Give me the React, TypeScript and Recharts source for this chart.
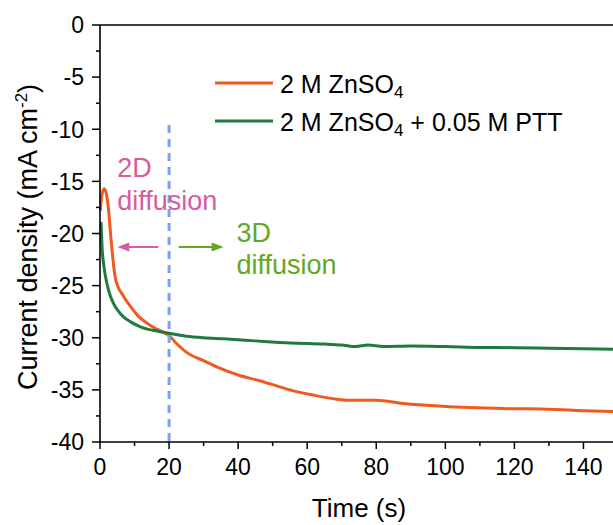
import React from 'react';
import { LineChart, Line, XAxis, YAxis, Legend, ReferenceLine, ReferenceDot } from 'recharts';

const FONT = '"Liberation Sans", Arial, Helvetica, sans-serif';

// time (s) / current density (mA cm-2)
const znTime = [0.1, 0.6, 1.25, 1.9, 2.5, 3.2, 4.4, 5.2, 6.4, 8.8, 11, 13.6, 16, 18, 20, 22, 25.5, 30, 34.5, 40.2, 45.9, 50, 55, 61.7, 68.5, 72, 79.9, 87.8, 95.7, 107, 118, 129.7, 140, 150];
const znCurrent = [-17.8, -16.2, -15.7, -16.3, -17.8, -20.6, -24.2, -25.1, -25.8, -27.0, -27.9, -28.6, -29.1, -29.4, -29.8, -30.5, -31.5, -32.2, -32.9, -33.6, -34.1, -34.5, -35.0, -35.5, -35.9, -36.0, -36.0, -36.3, -36.5, -36.7, -36.8, -36.85, -37.0, -37.1];

const pttTime = [0.3, 0.6, 1.2, 2, 3, 3.9, 5.2, 6.8, 9, 11.7, 14, 16.5, 20.4, 25, 30, 35.8, 45, 55.2, 65, 70, 74, 77.6, 82, 90, 100, 110, 120, 130, 140, 150];
const pttCurrent = [-18.9, -21.3, -23.3, -24.8, -26.0, -26.7, -27.4, -28.0, -28.5, -28.95, -29.2, -29.35, -29.6, -29.85, -30.0, -30.1, -30.3, -30.5, -30.6, -30.7, -30.85, -30.7, -30.85, -30.8, -30.85, -30.93, -30.95, -31.0, -31.05, -31.1];

const xTicks = [0, 10, 20, 30, 40, 50, 60, 70, 80, 90, 100, 110, 120, 130, 140, 150];
const yTicks = [0, -2.5, -5, -7.5, -10, -12.5, -15, -17.5, -20, -22.5, -25, -27.5, -30, -32.5, -35, -37.5, -40];

const seriesColors = ['#EF5B1C', '#1E7B3E'];
const PINK = '#D65CA2';
const LIME = '#62A823';

const znData = znTime.map((t, i) => ({ t, v: znCurrent[i] }));
const pttData = pttTime.map((t, i) => ({ t, v: pttCurrent[i] }));

const renderYTick = (props: any) => {
  const { x, y, payload } = props;
  const major = payload.value % 5 === 0;
  return (
    <g>
      <line x1={x} x2={x - (major ? 8 : 4)} y1={y} y2={y} stroke="#000" strokeWidth={1.5} />
      {major && (
        <text x={x - 16} y={y} dy="0.36em" textAnchor="end" fontSize={23} fontFamily={FONT} fill="#000">
          {String(payload.value)}
        </text>
      )}
    </g>
  );
};

const renderXTick = (props: any) => {
  const { x, y, payload } = props;
  const major = payload.value % 20 === 0;
  return (
    <g>
      <line x1={x} x2={x} y1={y} y2={y + (major ? 7 : 4)} stroke="#000" strokeWidth={1.5} />
      {major && (
        <text x={x} y={y + 33} textAnchor="middle" fontSize={23} fontFamily={FONT} fill="#000">
          {String(payload.value)}
        </text>
      )}
    </g>
  );
};

const YTitle = () => (
  <text transform="translate(37,237) rotate(-90)" textAnchor="middle" fontSize={27} fontFamily={FONT} fill="#000">
    Current density (mA cm<tspan dy={-10} fontSize={17}>-2</tspan><tspan dy={10}>)</tspan>
  </text>
);

const XTitle = () => (
  <text x={359} y={517} textAnchor="middle" fontSize={26} fontFamily={FONT} fill="#000">
    Time (s)
  </text>
);

const arrowShape = (color: string) => (p: any) => {
  const { x1, y1, x2, y2 } = p;
  const dir = x2 > x1 ? 1 : -1;
  return (
    <g>
      <line x1={x1} y1={y1} x2={x2 - dir * 9} y2={y2} stroke={color} strokeWidth={2} />
      <polygon points={`${x2},${y2} ${x2 - dir * 12},${y2 - 4.5} ${x2 - dir * 12},${y2 + 4.5}`} fill={color} />
    </g>
  );
};

const textShape = (label: string, color: string) => (p: any) => (
  <text x={p.cx} y={p.cy} fontSize={27} fontFamily={FONT} fill={color}>
    {label}
  </text>
);

const renderLegend = () => (
  <div style={{ fontFamily: FONT, fontSize: 25, color: '#000', lineHeight: 1 }}>
    {[0, 1].map((i) => (
      <div key={i} style={{ display: 'flex', alignItems: 'center', height: 38 }}>
        <svg width={65} height={38}>
          <line x1={0} x2={58} y1={19} y2={19} stroke={seriesColors[i]} strokeWidth={3} />
        </svg>
        <span style={{ position: 'relative', top: 3, whiteSpace: 'nowrap' }}>
          2 M ZnSO<sub style={{ fontSize: 17, verticalAlign: -5 }}>4</sub>
          {i === 1 ? ' + 0.05 M PTT' : ''}
        </span>
      </div>
    ))}
  </div>
);

export default function App() {
  return (
    <div style={{ position: 'absolute', left: 0, top: 0, width: 613, height: 525, overflow: 'hidden', background: '#fff' }}>
      <LineChart width={620} height={525} margin={{ top: 25, right: 2, bottom: 0, left: 0 }}>
        <XAxis
          type="number"
          dataKey="t"
          domain={[0, 150]}
          ticks={xTicks}
          interval={0}
          height={83}
          tickSize={0}
          tickMargin={0}
          tickLine={false}
          tick={renderXTick}
          axisLine={{ stroke: '#000', strokeWidth: 1.6 }}
          label={<XTitle />}
        />
        <YAxis
          type="number"
          domain={[-40, 0]}
          ticks={yTicks}
          interval={0}
          width={100}
          tickSize={0}
          tickMargin={0}
          tickLine={false}
          tick={renderYTick}
          axisLine={{ stroke: '#000', strokeWidth: 1.6 }}
          label={<YTitle />}
        />
        <ReferenceLine y={0} stroke="#000" strokeWidth={1.6} />
        <Line data={znData} dataKey="v" type="monotone" stroke={seriesColors[0]} strokeWidth={3} dot={false} isAnimationActive={false} />
        <Line data={pttData} dataKey="v" type="monotone" stroke={seriesColors[1]} strokeWidth={3} dot={false} isAnimationActive={false} />
        <ReferenceLine segment={[{ x: 20, y: -9.6 }, { x: 20, y: -40 }]} stroke="#7BA3EC" strokeWidth={3} strokeDasharray="8 6" />
        <ReferenceLine segment={[{ x: 16.9, y: -21.3 }, { x: 5.0, y: -21.3 }]} shape={arrowShape(PINK)} />
        <ReferenceLine segment={[{ x: 22.8, y: -21.3 }, { x: 35.8, y: -21.3 }]} shape={arrowShape(LIME)} />
        <ReferenceDot x={5.0} y={-14.55} r={0} ifOverflow="visible" shape={textShape('2D', PINK)} />
        <ReferenceDot x={5.0} y={-17.7} r={0} ifOverflow="visible" shape={textShape('diffusion', PINK)} />
        <ReferenceDot x={39.5} y={-20.8} r={0} ifOverflow="visible" shape={textShape('3D', LIME)} />
        <ReferenceDot x={39.5} y={-23.9} r={0} ifOverflow="visible" shape={textShape('diffusion', LIME)} />
        <Legend
          layout="horizontal"
          verticalAlign="middle"
          align="center"
          content={renderLegend}
          wrapperStyle={{ position: 'absolute', left: 215, top: 64, width: 'auto', height: 'auto' }}
        />
      </LineChart>
    </div>
  );
}
